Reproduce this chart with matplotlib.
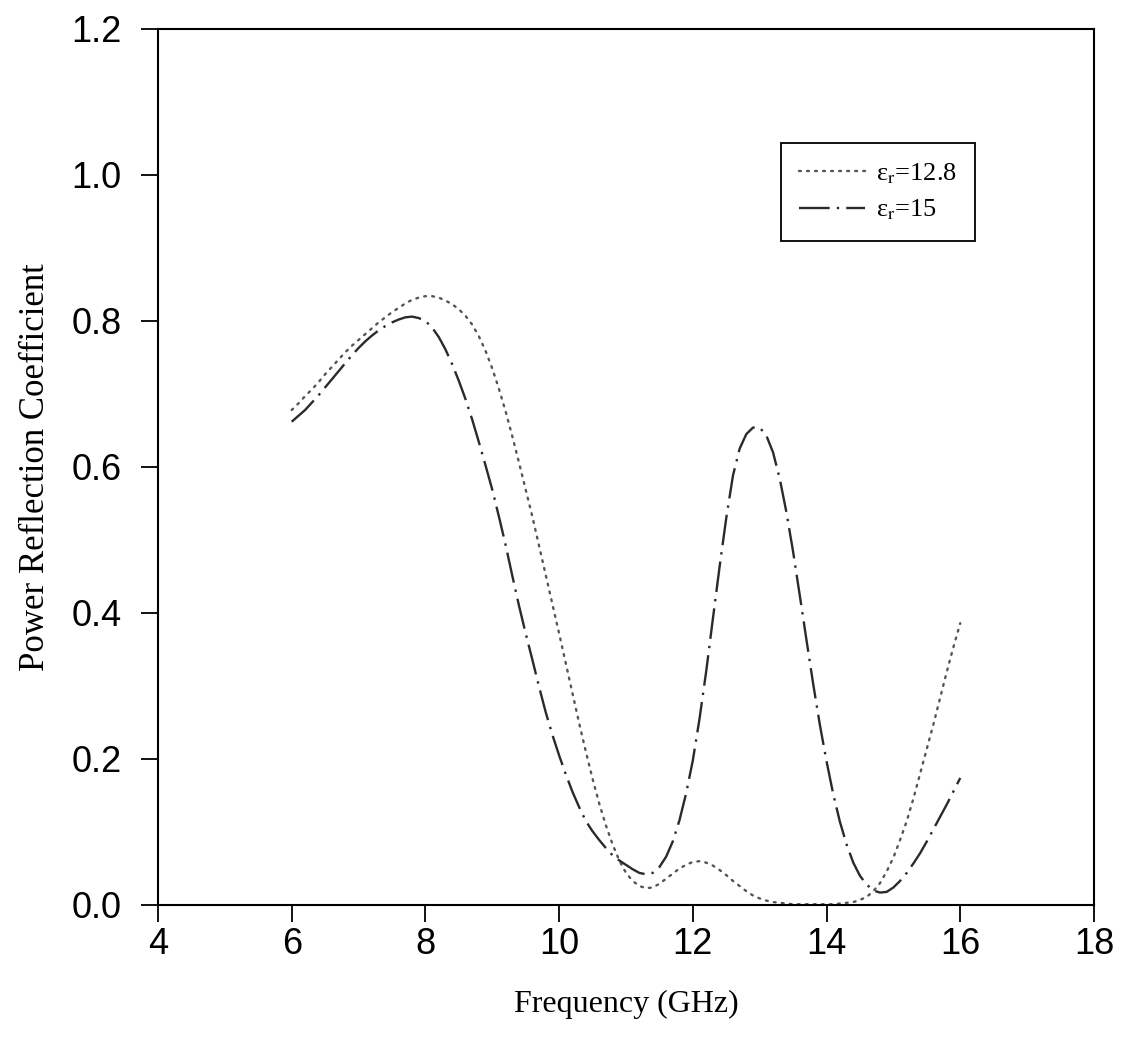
"""
Power reflection coefficient vs frequency for two permittivities
"""

import matplotlib
matplotlib.use('Agg')
import matplotlib.pyplot as plt

plt.rcParams['font.family'] = ['Liberation Serif', 'DejaVu Serif']
plt.rcParams['mathtext.fontset'] = 'stix'

# frequency grid (GHz)
freq = [6.0, 6.1, 6.2, 6.3, 6.4, 6.5, 6.6, 6.7, 6.8, 6.9,
        7.0, 7.1, 7.2, 7.3, 7.4, 7.5, 7.6, 7.7, 7.8, 7.9,
        8.0, 8.1, 8.2, 8.3, 8.4, 8.5, 8.6, 8.7, 8.8, 8.9,
        9.0, 9.1, 9.2, 9.3, 9.4, 9.5, 9.6, 9.7, 9.8, 9.9,
        10.0, 10.1, 10.2, 10.3, 10.4, 10.5, 10.6, 10.7, 10.8, 10.9,
        11.0, 11.1, 11.2, 11.3, 11.4, 11.5, 11.6, 11.7, 11.8, 11.9,
        12.0, 12.1, 12.2, 12.3, 12.4, 12.5, 12.6, 12.7, 12.8, 12.9,
        13.0, 13.1, 13.2, 13.3, 13.4, 13.5, 13.6, 13.7, 13.8, 13.9,
        14.0, 14.1, 14.2, 14.3, 14.4, 14.5, 14.6, 14.7, 14.8, 14.9,
        15.0, 15.1, 15.2, 15.3, 15.4, 15.5, 15.6, 15.7, 15.8, 15.9,
        16.0]

# eps_r = 12.8 (dotted)
refl_128 = [0.678, 0.687, 0.697, 0.706, 0.716, 0.727, 0.737, 0.747, 0.757, 0.766,
            0.774, 0.782, 0.790, 0.798, 0.805, 0.812, 0.818, 0.824, 0.829, 0.832,
            0.834, 0.834, 0.832, 0.828, 0.823, 0.816, 0.807, 0.795, 0.779, 0.759,
            0.735, 0.707, 0.676, 0.642, 0.606, 0.569, 0.532, 0.492, 0.452, 0.412,
            0.372, 0.331, 0.290, 0.249, 0.210, 0.173, 0.139, 0.109, 0.083, 0.061,
            0.044, 0.033, 0.026, 0.023, 0.024, 0.029, 0.036, 0.043, 0.050, 0.055,
            0.059, 0.060, 0.058, 0.054, 0.048, 0.041, 0.033, 0.026, 0.019, 0.013,
            0.009, 0.006, 0.004, 0.003, 0.002, 0.001, 0.001, 0.001, 0.001, 0.001,
            0.001, 0.001, 0.002, 0.003, 0.004, 0.007, 0.011, 0.019, 0.030, 0.046,
            0.065, 0.089, 0.115, 0.146, 0.180, 0.214, 0.248, 0.284, 0.320, 0.354,
            0.386]

# eps_r = 15 (dash-dot)
refl_15 = [0.662, 0.670, 0.678, 0.688, 0.698, 0.709, 0.720, 0.731, 0.742, 0.753,
           0.763, 0.772, 0.780, 0.787, 0.793, 0.798, 0.802, 0.805, 0.806, 0.804,
           0.800, 0.791, 0.778, 0.761, 0.741, 0.718, 0.693, 0.665, 0.634, 0.602,
           0.569, 0.532, 0.493, 0.451, 0.410, 0.372, 0.336, 0.299, 0.264, 0.233,
           0.205, 0.179, 0.155, 0.134, 0.115, 0.101, 0.089, 0.078, 0.068, 0.061,
           0.055, 0.049, 0.044, 0.042, 0.044, 0.052, 0.066, 0.087, 0.116, 0.153,
           0.198, 0.255, 0.320, 0.392, 0.463, 0.530, 0.588, 0.625, 0.645, 0.654,
           0.654, 0.643, 0.620, 0.584, 0.538, 0.484, 0.424, 0.363, 0.303, 0.247,
           0.197, 0.152, 0.114, 0.083, 0.058, 0.040, 0.028, 0.020, 0.017, 0.018,
           0.024, 0.033, 0.044, 0.057, 0.071, 0.087, 0.104, 0.121, 0.138, 0.156,
           0.174]

x_ticks = [4, 6, 8, 10, 12, 14, 16, 18]
y_ticks = [0.0, 0.2, 0.4, 0.6, 0.8, 1.0, 1.2]

fig = plt.figure(figsize=(11.22, 10.46), dpi=100)
ax = fig.add_axes([0.1408, 0.1348, 0.8342, 0.8375])

ax.plot(freq, refl_128, color='#555555', lw=1.7,
        linestyle=(0, (0.8, 2.6)), dash_capstyle='round',
        label='ε$_{\\mathrm{r}}$=12.8')
ax.plot(freq, refl_15, color='#2a2a2a', lw=1.7,
        linestyle=(0, (13, 3, 1, 3)),
        label='ε$_{\\mathrm{r}}$=15')

ax.set_xlim(4, 18)
ax.set_ylim(0, 1.2)
ax.set_xticks(x_ticks)
ax.set_xticklabels([str(v) for v in x_ticks])
ax.set_yticks(y_ticks)
ax.set_yticklabels([f'{v:.1f}' for v in y_ticks])

for lbl in ax.get_xticklabels() + ax.get_yticklabels():
    lbl.set_family('Liberation Sans')
    lbl.set_fontsize(26)

ax.tick_params(direction='out', length=12, width=1.3)
ax.tick_params(axis='y', pad=14)
ax.tick_params(axis='x', pad=4)
for sp in ax.spines.values():
    sp.set_linewidth(1.5)

ax.set_xlabel('Frequency (GHz)', fontsize=23, labelpad=20)
ax.set_ylabel('Power Reflection Coefficient', fontsize=25, labelpad=14)

leg = ax.legend(loc='upper left', bbox_to_anchor=(0.6656, 0.870),
                fontsize=19, frameon=True, fancybox=False, edgecolor='black',
                framealpha=1, handlelength=2.5, handletextpad=0.4,
                borderpad=0.7, labelspacing=0.45, borderaxespad=0)
leg.get_frame().set_linewidth(1.3)

plt.savefig('out.png', dpi=100)
plt.close()
